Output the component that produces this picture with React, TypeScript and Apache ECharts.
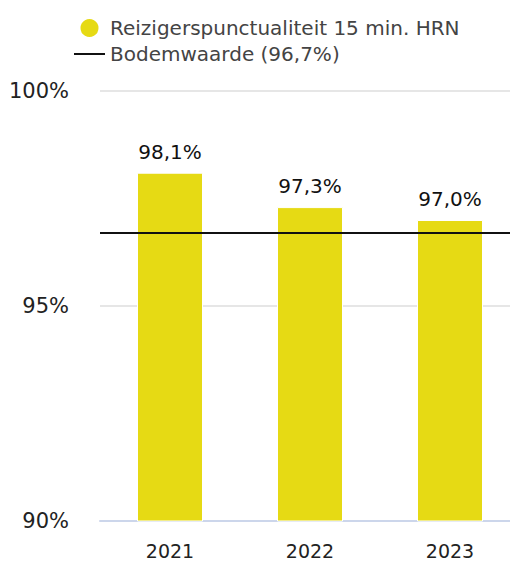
import React, { useEffect, useRef } from "react";
import * as echarts from "echarts";

const categories = ["2021", "2022", "2023"];
const punctuality = [98.1, 97.3, 97.0];
const floorValue = 96.7;
const barName = "Reizigerspunctualiteit 15 min. HRN";
const lineName = "Bodemwaarde (96,7%)";

const FONT = "DejaVu Sans, Verdana, sans-serif";

export default function App() {
  const ref = useRef<HTMLDivElement>(null);
  useEffect(() => {
    document.body.style.margin = "0";
    document.body.style.overflow = "hidden";
    if (!ref.current) return;
    const chart = echarts.init(ref.current, undefined, { renderer: "svg" });
    chart.setOption({
      animation: false,
      textStyle: { fontFamily: FONT },
      legend: {
        orient: "vertical",
        left: 69,
        top: 12,
        itemWidth: 31,
        itemHeight: 20,
        itemGap: 5,
        textStyle: { fontFamily: FONT, fontSize: 20, color: "#444" },
        data: [
          { name: barName, icon: "circle" },
          { name: lineName, icon: "path://M0,0 L31,0 L31,2 L0,2 Z" },
        ],
      },
      grid: { left: 100, top: 91, width: 420, height: 430, containLabel: false },
      xAxis: {
        type: "category",
        data: categories,
        axisLine: { lineStyle: { color: "#ccd6eb", width: 2 } },
        axisTick: { show: false },
        axisLabel: { fontFamily: FONT, fontSize: 19, color: "#222", margin: 20 },
      },
      yAxis: {
        type: "value",
        min: 90,
        max: 100,
        interval: 5,
        axisLine: { show: false },
        axisTick: { show: false },
        splitLine: { lineStyle: { color: "#e6e6e6", width: 2 } },
        axisLabel: {
          fontFamily: FONT,
          fontSize: 21,
          color: "#222",
          margin: 31,
          formatter: "{value}%",
        },
      },
      series: [
        {
          name: barName,
          type: "bar",
          data: punctuality,
          barWidth: 66,
          itemStyle: { color: "#e6da14", borderColor: "#fff", borderWidth: 1 },
          label: {
            show: true,
            position: "top",
            distance: 11,
            fontFamily: FONT,
            fontSize: 20,
            color: "#111",
            formatter: (p: any) => p.value.toFixed(1).replace(".", ",") + "%",
          },
          z: 2,
        },
        {
          name: lineName,
          type: "line",
          data: [],
          itemStyle: { color: "#111" },
          lineStyle: { color: "#111" },
          markLine: {
            silent: true,
            symbol: "none",
            label: { show: false },
            lineStyle: { color: "#111", width: 2, type: "solid" },
            data: [{ yAxis: floorValue }],
          },
          z: 5,
        },
      ],
    });
    return () => chart.dispose();
  }, []);
  return (
    <div style={{ width: 510, height: 563, overflow: "hidden", position: "relative" }}>
      <div ref={ref} style={{ width: 520, height: 563 }} />
    </div>
  );
}
